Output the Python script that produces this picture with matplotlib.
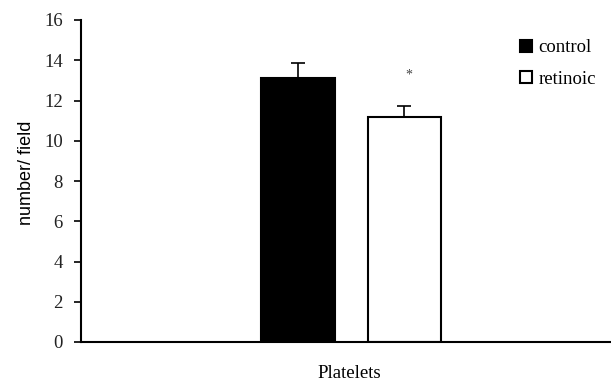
import matplotlib.pyplot as plt
from matplotlib.patches import Patch

# values
groups = ['control', 'retinoic']
means = [13.1, 11.2]
errors = [0.75, 0.55]
colors = ['black', 'white']
category = 'Platelets'
y_ticks = [0, 2, 4, 6, 8, 10, 12, 14, 16]

serif = 'Liberation Serif'

fig = plt.figure(figsize=(6.11, 3.83), dpi=100)
ax = fig.add_axes([81 / 611, 1 - 342 / 383, 1 - 81 / 611, 322 / 383])

offsets = [-0.5, 0.5]
for off, m, e, c in zip(offsets, means, errors, colors):
    ax.bar(off, m, width=0.69, color=c, edgecolor='black', linewidth=1.5)
    # upper-only error bar, Excel style
    ax.errorbar(off, m, yerr=[[0], [e]], fmt='none', ecolor='black',
                elinewidth=1.2, capsize=5, capthick=1.2)

# significance mark over retinoic
ax.text(offsets[1] + 0.04, means[1] + errors[1] + 1.5, '*', ha='center', va='center',
        fontsize=10, family=serif, color='#444444')

ax.set_xlim(-2.535, 2.44)
ax.set_ylim(0, 16)
ax.set_yticks(y_ticks)
ax.set_yticklabels([str(t) for t in y_ticks], family=serif, fontsize=13.5,
                   color='#222222')
ax.set_xticks([])
ax.set_xlabel(category, family=serif, fontsize=13.5)
ax.xaxis.set_label_coords(0.507, -0.072)
ax.set_ylabel('number/ field', family='Liberation Sans', fontsize=13)
ax.yaxis.set_label_coords(-0.086, 0.525)

for s in ['top', 'right']:
    ax.spines[s].set_visible(False)
ax.spines['left'].set_linewidth(1.5)
ax.spines['bottom'].set_linewidth(1.5)
ax.tick_params(axis='y', direction='out', length=5, width=1.2, pad=8)

handles = [Patch(facecolor=c, edgecolor='black', linewidth=1.5) for c in colors]
leg = fig.legend(handles, groups, loc='upper left',
                 bbox_to_anchor=(512 / 611, 1 - 32 / 383),
                 frameon=False, prop={'family': serif, 'size': 13.5},
                 handlelength=0.65, handleheight=0.65, handletextpad=0.35,
                 labelspacing=0.75, borderaxespad=0)

fig.savefig('out.png', dpi=100)
